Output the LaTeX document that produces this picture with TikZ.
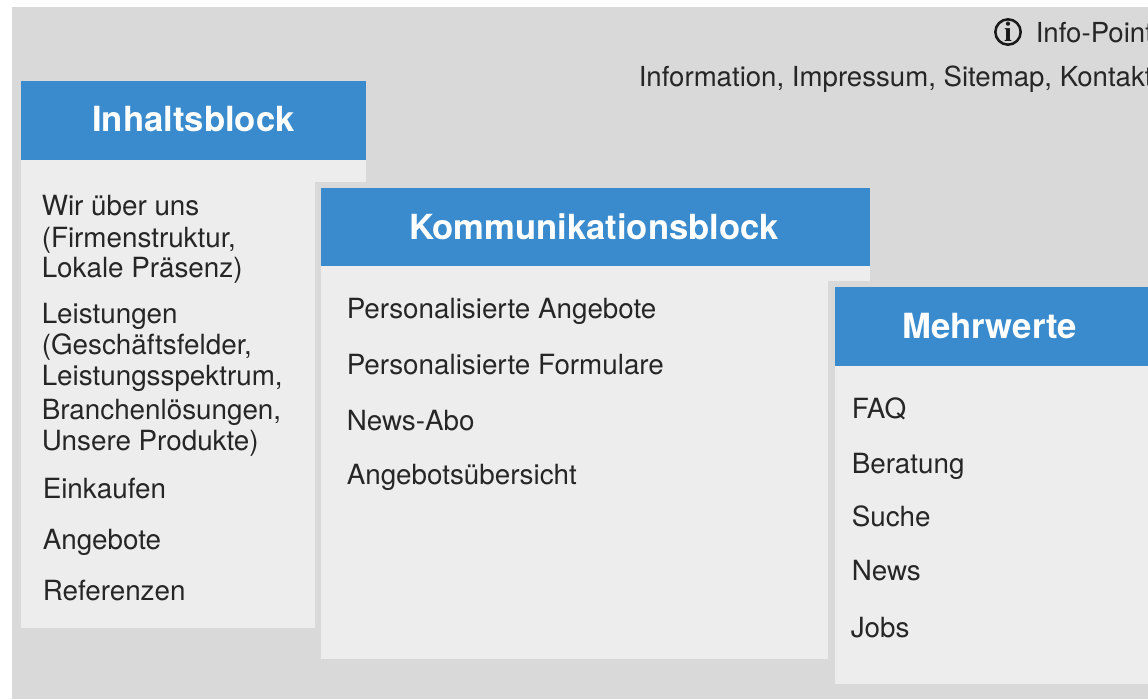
\documentclass[tikz,border=0pt]{standalone}
\usepackage{fontspec}
\setmainfont{TeX Gyre Heros}
\newfontfamily\iconfont{Liberation Serif}
\definecolor{bggray}{HTML}{D9D9D9}
\definecolor{bodygray}{HTML}{EDEDED}
\definecolor{headblue}{HTML}{398BCE}
\definecolor{txtdark}{HTML}{262626}
\tikzset{
  bodytext/.style={anchor=base west,inner sep=0pt,text=txtdark,font=\fontsize{20.85}{24}\selectfont},
  toptext/.style={bodytext,font=\fontsize{20.7}{24}\selectfont},
  headtext/.style={anchor=base,inner sep=0pt,text=white,font=\fontsize{26}{30}\selectfont\bfseries},
  panel/.style={fill=bodygray,draw=none},
  headbar/.style={fill=headblue,draw=none}
}
\begin{document}
\begin{tikzpicture}[x=0.75pt,y=-0.75pt]
\useasboundingbox (0,0) rectangle (1148,699);
\clip (0,0) rectangle (1148,699);
\fill[bggray] (12,7) rectangle (1148,699);
% Block 1
\fill[panel] (21,160) rectangle (366,182);
\fill[panel] (21,160) rectangle (315,628);
\fill[headbar] (21,81) rectangle (366,160);
% Block 2
\fill[panel] (321,266) rectangle (870,281);
\fill[panel] (321,266) rectangle (828,658.5);
\fill[headbar] (321,187.5) rectangle (870,266);
% Block 3
\fill[panel] (835,365) rectangle (1148,684);
\fill[headbar] (835,287) rectangle (1148,365.5);
% Headers
\node[headtext] (h1) at (193.5,131) {Inhaltsblock};
\node[headtext,font=\fontsize{25.95}{30}\selectfont\bfseries] (h2) at (594,239) {Kommunikationsblock};
\node[headtext] (h3) at (989.5,338) {Mehrwerte};
% Info
\node[circle,draw=black!90,line width=1.9pt,minimum size=19pt,inner sep=0pt,font=\iconfont\bfseries\fontsize{21}{21}\selectfont,text=black!90] (icon) at (1008,32) {i};
\node[toptext] (info) at (1035.5,42.5) {Info-Point};
\node[toptext] (links) at (638.5,86) {Information, Impressum, Sitemap, Kontakt};
% Column 1
\node[bodytext] (a1) at (41.5,215) {Wir über uns};
\node[bodytext] (a2) at (41.5,247) {(Firmenstruktur,};
\node[bodytext] (a3) at (41.5,277) {Lokale Präsenz)};
\node[bodytext] (a4) at (41.5,323) {Leistungen};
\node[bodytext] (a5) at (41.5,354.5) {(Geschäftsfelder,};
\node[bodytext] (a6) at (41.5,385.5) {Leistungsspektrum,};
\node[bodytext] (a7) at (41.5,419) {Branchenlösungen,};
\node[bodytext] (a8) at (41.5,450) {Unsere Produkte)};
\node[bodytext] (a9) at (42.5,498.5) {Einkaufen};
\node[bodytext] (a10) at (42.5,549.5) {Angebote};
\node[bodytext] (a11) at (42.5,600.5) {Referenzen};
% Column 2
\node[bodytext] (b1) at (346.5,318) {Personalisierte Angebote};
\node[bodytext] (b2) at (346.5,374.5) {Personalisierte Formulare};
\node[bodytext] (b3) at (346.5,430) {News-Abo};
\node[bodytext] (b4) at (346.5,484) {Angebotsübersicht};
% Column 3
\node[bodytext] (c1) at (851.5,418.5) {FAQ};
\node[bodytext] (c2) at (851.5,473) {Beratung};
\node[bodytext] (c3) at (851.5,526) {Suche};
\node[bodytext] (c4) at (851.5,580.5) {News};
\node[bodytext] (c5) at (850.5,637) {Jobs};
\end{tikzpicture}
\end{document}
